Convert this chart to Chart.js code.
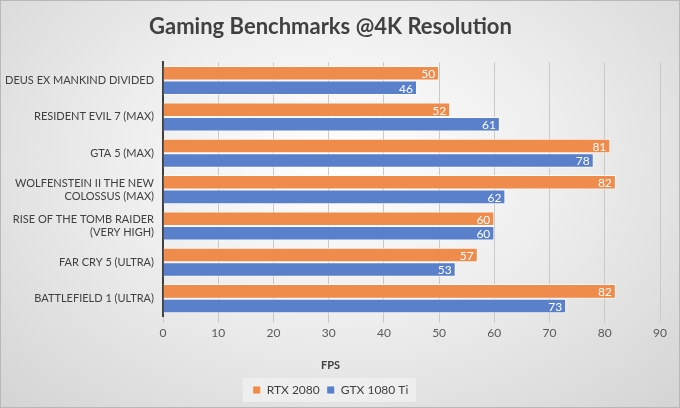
<!DOCTYPE html>
<html>
<head>
<meta charset="utf-8">
<script src="https://cdn.jsdelivr.net/npm/chart.js@4"></script>
<style>
  html, body { margin:0; padding:0; }
  #wrap {
    width:680px; height:408px; box-sizing:border-box;
    border:1px solid #b8b8b8;
    background: radial-gradient(ellipse at 50% 40%, #ffffff 0%, #eeeeee 45%, #d4d4d4 100%);
  }
</style>
</head>
<body>
<div id="wrap"><canvas id="chart" width="678" height="406"></canvas></div>
<script>
const CATEGORIES = [
  'DEUS EX MANKIND DIVIDED',
  'RESIDENT EVIL 7 (MAX)',
  'GTA 5 (MAX)',
  ['WOLFENSTEIN II THE NEW', 'COLOSSUS (MAX)'],
  ['RISE OF THE TOMB RAIDER', '(VERY HIGH)'],
  'FAR CRY 5 (ULTRA)',
  'BATTLEFIELD 1 (ULTRA)'
];
const RTX_2080 = [50, 52, 81, 82, 60, 57, 82];
const GTX_1080TI = [46, 61, 78, 62, 60, 53, 73];
const X_MAX = 90;
const X_STEP = 10;

const FONT = 'Lato, "Open Sans", sans-serif';

// white value labels at the inner end of each bar
const valueLabels = {
  id: 'valueLabels',
  afterDatasetsDraw(chart){
    const ctx = chart.ctx;
    ctx.save();
    ctx.font = '12px ' + FONT;
    ctx.fillStyle = '#ffffff';
    ctx.textAlign = 'right';
    ctx.textBaseline = 'middle';
    chart.data.datasets.forEach((ds, i)=>{
      chart.getDatasetMeta(i).data.forEach((bar, j)=>{
        ctx.fillText(String(ds.data[j]), bar.x - 4, bar.y + 1);
      });
    });
    ctx.restore();
  }
};

// faint box behind the legend
const legendBox = {
  id: 'legendBox',
  beforeDraw(chart){
    const lg = chart.legend;
    if(!lg || !lg.legendHitBoxes || !lg.legendHitBoxes.length) return;
    const hb = lg.legendHitBoxes;
    const x0 = hb[0].left - 10;
    const x1 = hb[hb.length-1].left + hb[hb.length-1].width + 8;
    const y0 = hb[0].top - 6;
    const h = hb[0].height + 12;
    const ctx = chart.ctx;
    ctx.save();
    ctx.fillStyle = 'rgba(240,240,240,0.85)';
    ctx.fillRect(x0, y0, x1 - x0, h);
    ctx.restore();
  }
};

new Chart(document.getElementById('chart'), {
  type: 'bar',
  data: {
    labels: CATEGORIES,
    datasets: [
      { label: 'RTX 2080', data: RTX_2080, backgroundColor: '#EF8B4B', borderColor: 'rgba(255,255,255,0.7)', borderWidth: 1,
        categoryPercentage: 0.8, barPercentage: 1 },
      { label: 'GTX 1080 Ti', data: GTX_1080TI, backgroundColor: '#5A80CC', borderColor: 'rgba(255,255,255,0.7)', borderWidth: 1,
        categoryPercentage: 0.8, barPercentage: 1 }
    ]
  },
  options: {
    indexAxis: 'y',
    responsive: false,
    animation: false,
    layout: { padding: { left: 0, right: 19, bottom: 1 } },
    scales: {
      x: {
        min: 0, max: X_MAX,
        ticks: { stepSize: X_STEP, color: '#595959', font: { family: FONT, size: 12 }, padding: 3 },
        grid: { color: '#c9c9c9', tickLength: 6, drawTicks: true },
        border: { display: false },
        afterFit(scale){ scale.height = 30; }
      },
      y: {
        ticks: { color: '#404040', font: { family: FONT, size: 11 }, padding: 9, autoSkip: false },
        grid: { display: false, drawTicks: false },
        border: { display: true, color: '#404040', width: 2 },
        afterFit(scale){ scale.width = 162; }
      }
    },
    plugins: {
      title: {
        display: true,
        text: 'Gaming Benchmarks @4K Resolution',
        color: '#404040',
        font: { family: FONT, size: 22, weight: 'bold' },
        padding: { top: 13, bottom: 22 }
      },
      subtitle: {
        display: true,
        position: 'bottom',
        weight: 500,
        text: 'FPS',
        color: '#404040',
        font: { family: FONT, size: 11, weight: 'bold' },
        padding: { top: 12, bottom: 5 }
      },
      legend: {
        position: 'bottom',
        labels: { color: '#404040', font: { family: FONT, size: 12 }, boxWidth: 8, boxHeight: 8, padding: 7 }
      },
      tooltip: { enabled: false }
    }
  },
  plugins: [valueLabels, legendBox]
});
</script>
</body>
</html>
